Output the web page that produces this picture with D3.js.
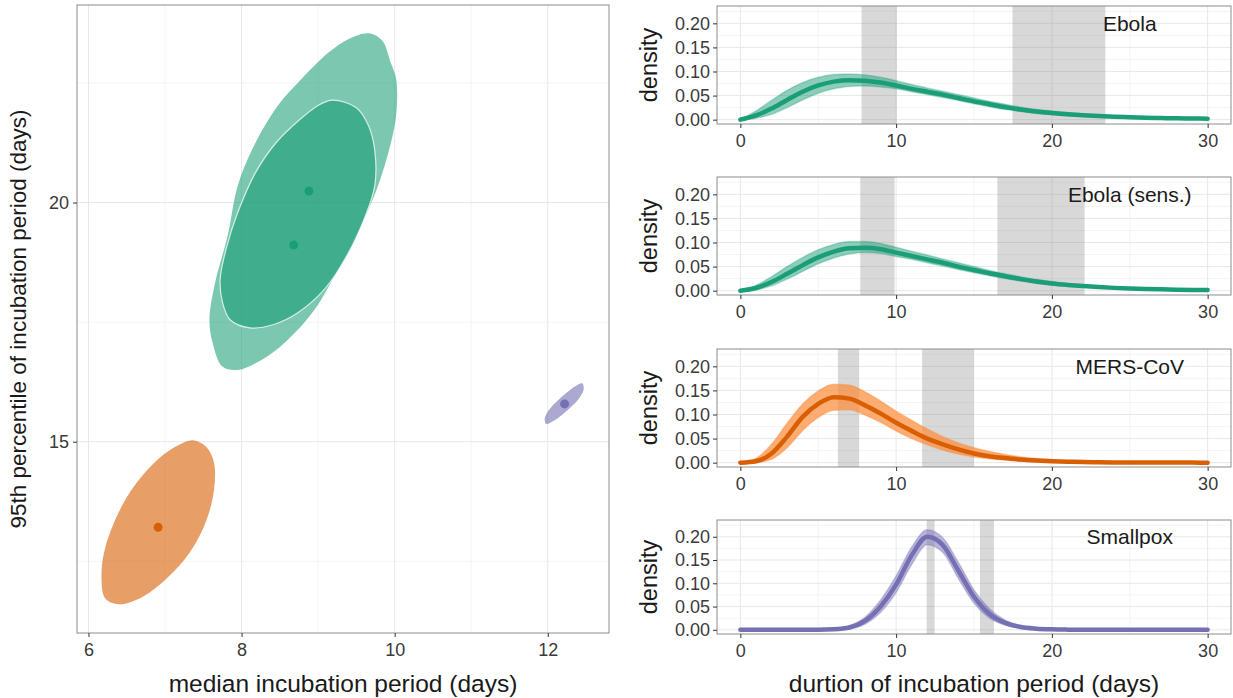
<!DOCTYPE html>
<meta charset="utf-8">
<style>
body{margin:0;background:#fff;}
text{font-family:"Liberation Sans",Arial,Helvetica,sans-serif;}
</style>
<body>
<svg width="1233" height="698"></svg>
<script src="https://cdnjs.cloudflare.com/ajax/libs/d3/7.8.5/d3.min.js"></script>
<script>

// ---- left panel: joint uncertainty of median and 95th percentile (days)
var ebolaSensRegion = [[9.66,23.54],[9.84,23.38],[9.94,22.96],[10.02,22.58],[10.02,21.84],[9.94,21.18],[9.76,20.25],[9.50,19.32],[9.25,18.57],[8.94,17.73],[8.57,17.08],[8.26,16.71],[7.95,16.50],[7.75,16.57],[7.62,17.08],[7.58,17.55],[7.65,18.29],[7.82,19.32],[7.95,20.35],[8.16,21.18],[8.47,22.02],[8.78,22.58],[9.14,23.14],[9.40,23.42]];
var ebolaRegion = [[9.19,22.14],[9.50,21.98],[9.66,21.60],[9.74,21.09],[9.74,20.35],[9.61,19.69],[9.40,18.95],[9.09,18.20],[8.73,17.69],[8.42,17.45],[8.11,17.38],[7.85,17.55],[7.75,17.92],[7.72,18.39],[7.80,19.04],[7.95,19.79],[8.18,20.62],[8.45,21.25],[8.75,21.72],[9.00,22.03]];
var mersRegion = [[7.36,15.03],[7.54,14.89],[7.64,14.56],[7.64,14.00],[7.54,13.35],[7.33,12.70],[7.02,12.14],[6.71,11.76],[6.40,11.60],[6.22,11.72],[6.17,12.23],[6.22,12.79],[6.40,13.54],[6.61,14.10],[6.92,14.65],[7.18,14.93]];
var smallpoxRegion = [[12.45,16.22],[12.47,16.10],[12.42,15.93],[12.32,15.75],[12.20,15.58],[12.07,15.43],[11.98,15.37],[11.96,15.48],[12.01,15.65],[12.11,15.83],[12.23,16.00],[12.36,16.16]];

var pointMedian = [8.88, 8.68, 6.91, 12.22];
var pointP95 = [20.24, 19.11, 13.21, 15.79];
var pointColor = ["#1b9e77","#1b9e77","#d95f02","#7570b3"];

// ---- right panels: densities over 0..30 days
var days = [0,1,2,3,4,5,6,7,8,9,10,11,12,13,14,15,16,17,18,19,20,21,22,23,24,25,26,27,28,29,30];

var ebolaMid = [0,0.009,0.023,0.041,0.058,0.071,0.079,0.082,0.081,0.077,0.071,0.064,0.058,0.052,0.045,0.038,0.032,0.026,0.021,0.017,0.0137,0.011,0.009,0.0075,0.006,0.005,0.004,0.0034,0.0028,0.0024,0.002];
var ebolaHi  = [0,0.018,0.040,0.061,0.077,0.088,0.094,0.095,0.093,0.088,0.081,0.073,0.066,0.059,0.052,0.045,0.038,0.032,0.026,0.021,0.018,0.015,0.012,0.0098,0.008,0.0066,0.0055,0.0046,0.0038,0.0032,0.0027];
var ebolaLo  = [0,0.003,0.011,0.025,0.041,0.055,0.064,0.069,0.070,0.068,0.064,0.058,0.052,0.046,0.040,0.033,0.027,0.021,0.017,0.013,0.0105,0.0082,0.0065,0.0052,0.0042,0.0034,0.0027,0.0022,0.0018,0.0015,0.0012];

var sensMid = [0,0.0056,0.018,0.035,0.053,0.069,0.081,0.088,0.089,0.086,0.079,0.072,0.065,0.058,0.050,0.043,0.036,0.030,0.024,0.019,0.015,0.012,0.0095,0.0075,0.0058,0.0045,0.0035,0.0027,0.0021,0.0016,0.0012];
var sensHi  = [0,0.011,0.029,0.050,0.069,0.085,0.096,0.102,0.102,0.098,0.090,0.082,0.074,0.066,0.058,0.050,0.042,0.035,0.029,0.023,0.019,0.015,0.012,0.0095,0.0075,0.006,0.0047,0.0037,0.0029,0.0023,0.0018];
var sensLo  = [0,0.002,0.010,0.024,0.040,0.056,0.068,0.076,0.079,0.077,0.071,0.065,0.058,0.051,0.044,0.037,0.031,0.025,0.020,0.015,0.012,0.0095,0.0075,0.0057,0.0044,0.0034,0.0026,0.002,0.0015,0.0011,0.0008];

var mersMid = [0,0.003,0.019,0.054,0.095,0.122,0.136,0.133,0.119,0.102,0.083,0.066,0.050,0.038,0.0275,0.019,0.0135,0.0095,0.0065,0.0045,0.003,0.002,0.0013,0.0009,0.0006,0.0004,0.0003,0.0002,0.0001,0.0001,0];
var mersHi  = [0,0.009,0.038,0.082,0.122,0.149,0.163,0.161,0.147,0.128,0.107,0.088,0.070,0.054,0.041,0.031,0.023,0.017,0.012,0.0085,0.006,0.004,0.0028,0.0019,0.0013,0.0009,0.0006,0.0004,0.0003,0.0002,0.0001];
var mersLo  = [0,0.0005,0.007,0.031,0.067,0.094,0.109,0.110,0.099,0.084,0.066,0.050,0.037,0.026,0.018,0.012,0.008,0.0055,0.0036,0.0024,0.0016,0.001,0.0007,0.0004,0.0003,0.0002,0.0001,0.0001,0,0,0];

var smallpoxMid = [0,0,0,0,0,0,0.001,0.005,0.019,0.050,0.097,0.160,0.200,0.182,0.127,0.071,0.034,0.015,0.006,0.0025,0.001,0.0004,0.0002,0.0001,0,0,0,0,0,0,0];
var smallpoxHi  = [0,0,0,0,0,0,0.002,0.009,0.027,0.064,0.116,0.178,0.215,0.198,0.145,0.086,0.045,0.021,0.009,0.004,0.0015,0.0006,0.0003,0.0001,0,0,0,0,0,0,0];
var smallpoxLo  = [0,0,0,0,0,0,0,0.002,0.012,0.037,0.080,0.140,0.183,0.166,0.110,0.057,0.025,0.010,0.004,0.0015,0.0005,0.0002,0.0001,0,0,0,0,0,0,0,0];

// shaded intervals (days) behind each density
var ebolaShade = [[7.78,10.04],[17.47,23.43]];
var sensShade = [[7.7,9.9],[16.5,22.1]];
var mersShade = [[6.26,7.63],[11.67,15.0]];
var smallpoxShade = [[11.96,12.47],[15.38,16.28]];

var panelNames = ["Ebola","Ebola (sens.)","MERS-CoV","Smallpox"];
var yTicks = [0,0.05,0.10,0.15,0.20];
var xTicks = [0,10,20,30];

var svg = d3.select("svg");
var tickColor = "#3a3a3a", borderColor = "#8c8c8c";

function drawGrid(g, x, y, xs, ys, x0, x1, y0, y1, col){
	g.selectAll(null).data(xs).enter().append("line")
		.attr("x1", d=>x(d)).attr("x2", d=>x(d)).attr("y1", y0).attr("y2", y1)
		.attr("stroke", col).attr("stroke-width", 1);
	g.selectAll(null).data(ys).enter().append("line")
		.attr("y1", d=>y(d)).attr("y2", d=>y(d)).attr("x1", x0).attr("x2", x1)
		.attr("stroke", col).attr("stroke-width", 1);
}

function styleAxis(a, fs){
	a.select(".domain").remove();
	a.selectAll(".tick line").attr("stroke", "#333");
	a.selectAll(".tick text").attr("fill", tickColor).style("font-size", fs+"px");
}

// ================= left panel
var L = {x0:77, x1:609, y0:5, y1:633};
var lx = d3.scaleLinear().domain([5.85,12.8]).range([L.x0,L.x1]);
var ly = d3.scaleLinear().domain([11.0,24.13]).range([L.y1,L.y0]);
var lg = svg.append("g");

lg.append("rect").attr("x",L.x0).attr("y",L.y0).attr("width",L.x1-L.x0).attr("height",L.y1-L.y0).attr("fill","#fff");
drawGrid(lg, lx, ly, [7,9,11], [12.5,17.5,22.5], L.x0, L.x1, L.y0, L.y1, "#f4f4f4");
drawGrid(lg, lx, ly, [6,8,10,12], [15,20], L.x0, L.x1, L.y0, L.y1, "#e8e8e8");

var blob = d3.line().x(d=>lx(d[0])).y(d=>ly(d[1])).curve(d3.curveCatmullRomClosed.alpha(0.5));
lg.append("path").attr("d", blob(ebolaSensRegion)).attr("fill","#1b9e77").attr("fill-opacity",0.58);
lg.append("path").attr("d", blob(ebolaRegion)).attr("fill","#1b9e77").attr("fill-opacity",0.62)
	.attr("stroke","#fff").attr("stroke-opacity",0.75).attr("stroke-width",1.2);
lg.append("path").attr("d", blob(mersRegion)).attr("fill","#d95f02").attr("fill-opacity",0.6);
lg.append("path").attr("d", blob(smallpoxRegion)).attr("fill","#7570b3").attr("fill-opacity",0.6);

lg.selectAll(null).data(pointMedian).enter().append("circle")
	.attr("cx", d=>lx(d)).attr("cy", (d,i)=>ly(pointP95[i])).attr("r", 4.5)
	.attr("fill", (d,i)=>pointColor[i]);

lg.append("rect").attr("x",L.x0).attr("y",L.y0).attr("width",L.x1-L.x0).attr("height",L.y1-L.y0)
	.attr("fill","none").attr("stroke",borderColor).attr("stroke-width",1);

var lax = lg.append("g").attr("transform","translate(0,"+L.y1+")")
	.call(d3.axisBottom(lx).tickValues([6,8,10,12]).tickFormat(d3.format("d")).tickSize(4).tickPadding(6));
styleAxis(lax, 18);
var lay = lg.append("g").attr("transform","translate("+L.x0+",0)")
	.call(d3.axisLeft(ly).tickValues([15,20]).tickSize(4).tickPadding(4));
styleAxis(lay, 18);

lg.append("text").attr("x",(L.x0+L.x1)/2).attr("y",692).attr("text-anchor","middle")
	.style("font-size","24.5px").attr("fill","#1a1a1a").text("median incubation period (days)");
lg.append("text").attr("transform","translate(26,"+((L.y0+L.y1)/2)+") rotate(-90)")
	.attr("text-anchor","middle").style("font-size","22.5px").attr("fill","#1a1a1a")
	.text("95th percentile of incubation period (days)");

// ================= right panels
var panels = [
	{mid:ebolaMid, hi:ebolaHi, lo:ebolaLo, shade:ebolaShade, line:"#1b9e77", band:"#1b9e77", op:0.5},
	{mid:sensMid, hi:sensHi, lo:sensLo, shade:sensShade, line:"#1b9e77", band:"#1b9e77", op:0.5},
	{mid:mersMid, hi:mersHi, lo:mersLo, shade:mersShade, line:"#d95f02", band:"#fd8d3c", op:0.72},
	{mid:smallpoxMid, hi:smallpoxHi, lo:smallpoxLo, shade:smallpoxShade, line:"#7570b3", band:"#7570b3", op:0.5}
];
var pTop = [6,177,349,520], pBot = [124,295,467,634];
var R = {x0:717, x1:1231};
var rx = d3.scaleLinear().domain([-1.5,31.5]).range([R.x0,R.x1]);

panels.forEach(function(p,k){
	var ry = d3.scaleLinear().domain([-0.009,0.236]).range([pBot[k],pTop[k]]);
	var g = svg.append("g");
	var cid = "clip"+k;
	g.append("clipPath").attr("id",cid).append("rect")
		.attr("x",R.x0).attr("y",pTop[k]).attr("width",R.x1-R.x0).attr("height",pBot[k]-pTop[k]);

	drawGrid(g, rx, ry, [5,15,25], [0.025,0.075,0.125,0.175,0.225], R.x0, R.x1, pTop[k], pBot[k], "#f4f4f4");
	drawGrid(g, rx, ry, xTicks, yTicks, R.x0, R.x1, pTop[k], pBot[k], "#e8e8e8");

	var c = g.append("g").attr("clip-path","url(#"+cid+")");
	c.selectAll(null).data(p.shade).enter().append("rect")
		.attr("x", d=>rx(d[0])).attr("width", d=>rx(d[1])-rx(d[0]))
		.attr("y", pTop[k]).attr("height", pBot[k]-pTop[k])
		.attr("fill","#7f7f7f").attr("fill-opacity",0.3);

	var area = d3.area().x((d,i)=>rx(days[i])).y0((d,i)=>ry(p.lo[i])).y1(d=>ry(d)).curve(d3.curveMonotoneX);
	c.append("path").attr("d", area(p.hi)).attr("fill", p.band).attr("fill-opacity", p.op)
		.attr("stroke", p.band).attr("stroke-opacity", p.op*0.6).attr("stroke-width", 1.5);
	var line = d3.line().x((d,i)=>rx(days[i])).y(d=>ry(d)).curve(d3.curveMonotoneX);
	c.append("path").attr("d", line(p.mid)).attr("fill","none").attr("stroke",p.line)
		.attr("stroke-width",4.5).attr("stroke-linecap","round");

	g.append("rect").attr("x",R.x0).attr("y",pTop[k]).attr("width",R.x1-R.x0).attr("height",pBot[k]-pTop[k])
		.attr("fill","none").attr("stroke",borderColor).attr("stroke-width",1);

	var ax = g.append("g").attr("transform","translate(0,"+pBot[k]+")")
		.call(d3.axisBottom(rx).tickValues(xTicks).tickSize(4).tickPadding(6));
	styleAxis(ax, 18);
	var ay = g.append("g").attr("transform","translate("+R.x0+",0)")
		.call(d3.axisLeft(ry).tickValues(yTicks).tickFormat(d3.format(".2f")).tickSize(4).tickPadding(3));
	styleAxis(ay, 18);

	g.append("text").attr("transform","translate(657,"+((pTop[k]+pBot[k])/2)+") rotate(-90)")
		.attr("text-anchor","middle").style("font-size","23.5px").attr("fill","#1a1a1a").text("density");
	g.append("text").attr("x", rx(25)).attr("y", ry(0.2)).attr("dy","0.35em")
		.attr("text-anchor","middle").style("font-size","21px").attr("fill","#1a1a1a").text(panelNames[k]);
});

svg.append("text").attr("x",(R.x0+R.x1)/2).attr("y",692).attr("text-anchor","middle")
	.style("font-size","24.5px").attr("fill","#1a1a1a").text("durtion of incubation period (days)");
</script>
